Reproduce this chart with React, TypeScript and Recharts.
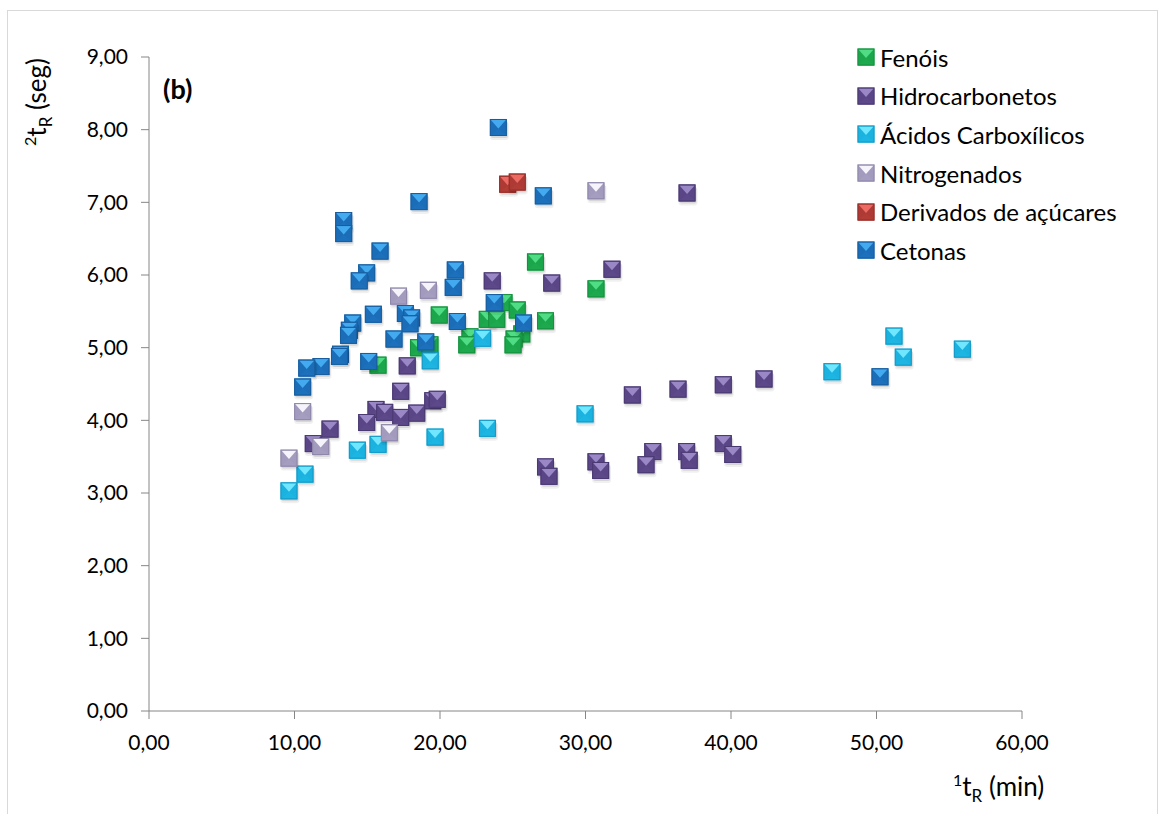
import { ScatterChart, Scatter, XAxis, YAxis } from 'recharts'

type Pt = { x: number; y: number }

const xTicks = [0, 10, 20, 30, 40, 50, 60]
const yTicks = [0, 1, 2, 3, 4, 5, 6, 7, 8, 9]

const fenois: Pt[] = [
  { x: 26.56, y: 6.18 }, { x: 30.72, y: 5.81 }, { x: 24.4, y: 5.62 }, { x: 25.31, y: 5.52 },
  { x: 19.95, y: 5.45 }, { x: 23.25, y: 5.39 }, { x: 23.9, y: 5.39 }, { x: 27.25, y: 5.37 },
  { x: 22.06, y: 5.15 }, { x: 21.84, y: 5.04 }, { x: 25.62, y: 5.19 }, { x: 25.09, y: 5.12 },
  { x: 25.02, y: 5.04 }, { x: 18.52, y: 5.0 }, { x: 19.31, y: 5.04 }, { x: 15.74, y: 4.76 },
]

const hidrocarbonetos: Pt[] = [
  { x: 36.98, y: 7.13 }, { x: 31.82, y: 6.08 }, { x: 27.68, y: 5.89 }, { x: 23.59, y: 5.92 },
  { x: 17.75, y: 4.75 }, { x: 17.3, y: 4.4 }, { x: 15.6, y: 4.15 }, { x: 16.2, y: 4.11 },
  { x: 17.3, y: 4.04 }, { x: 18.4, y: 4.1 }, { x: 19.5, y: 4.27 }, { x: 19.81, y: 4.29 },
  { x: 14.96, y: 3.97 }, { x: 12.44, y: 3.88 }, { x: 11.29, y: 3.68 }, { x: 42.27, y: 4.57 },
  { x: 39.47, y: 4.49 }, { x: 36.36, y: 4.43 }, { x: 33.22, y: 4.35 }, { x: 39.47, y: 3.68 },
  { x: 40.12, y: 3.53 }, { x: 36.95, y: 3.57 }, { x: 37.13, y: 3.45 }, { x: 34.62, y: 3.57 },
  { x: 34.16, y: 3.39 }, { x: 30.72, y: 3.43 }, { x: 31.04, y: 3.31 }, { x: 27.25, y: 3.36 },
  { x: 27.49, y: 3.23 },
]

const acidos: Pt[] = [
  { x: 9.62, y: 3.03 }, { x: 10.72, y: 3.26 }, { x: 14.32, y: 3.59 }, { x: 15.74, y: 3.67 },
  { x: 19.66, y: 3.77 }, { x: 23.26, y: 3.89 }, { x: 19.33, y: 4.82 }, { x: 22.93, y: 5.13 },
  { x: 29.97, y: 4.09 }, { x: 46.94, y: 4.67 }, { x: 51.2, y: 5.16 }, { x: 51.84, y: 4.87 },
  { x: 55.9, y: 4.98 },
]

const nitrogenados: Pt[] = [
  { x: 30.72, y: 7.16 }, { x: 17.15, y: 5.71 }, { x: 19.2, y: 5.79 }, { x: 10.56, y: 4.12 },
  { x: 16.52, y: 3.83 }, { x: 11.8, y: 3.64 }, { x: 9.62, y: 3.48 },
]

const acucares: Pt[] = [
  { x: 24.65, y: 7.25 }, { x: 25.31, y: 7.28 },
]

const cetonas: Pt[] = [
  { x: 24.01, y: 8.03 }, { x: 27.1, y: 7.09 }, { x: 18.56, y: 7.01 }, { x: 13.38, y: 6.75 },
  { x: 13.38, y: 6.57 }, { x: 15.88, y: 6.33 }, { x: 14.96, y: 6.03 }, { x: 14.45, y: 5.92 },
  { x: 21.05, y: 6.07 }, { x: 20.91, y: 5.83 }, { x: 23.73, y: 5.62 }, { x: 15.42, y: 5.46 },
  { x: 17.62, y: 5.47 }, { x: 18.05, y: 5.41 }, { x: 17.94, y: 5.33 }, { x: 21.19, y: 5.36 },
  { x: 25.74, y: 5.34 }, { x: 14.0, y: 5.34 }, { x: 13.77, y: 5.24 }, { x: 13.71, y: 5.17 },
  { x: 16.84, y: 5.12 }, { x: 19.02, y: 5.08 }, { x: 13.16, y: 4.91 }, { x: 13.09, y: 4.88 },
  { x: 15.1, y: 4.81 }, { x: 11.82, y: 4.74 }, { x: 10.84, y: 4.72 }, { x: 10.56, y: 4.46 },
  { x: 50.24, y: 4.6 },
]

type Pal = { top: string; side: string; bottom: string; edge: string }

const series: { name: string; data: Pt[]; pal: Pal }[] = [
  { name: 'Fenóis', data: fenois, pal: { top: '#4fdc84', side: '#1ca64c', bottom: '#1ea94f', edge: '#17913f' } },
  { name: 'Hidrocarbonetos', data: hidrocarbonetos, pal: { top: '#9a88c6', side: '#5a4686', bottom: '#5d4989', edge: '#4a3a72' } },
  { name: 'Ácidos Carboxílicos', data: acidos, pal: { top: '#70e6ff', side: '#1bb2e0', bottom: '#1db6e3', edge: '#1799c4' } },
  { name: 'Nitrogenados', data: nitrogenados, pal: { top: '#f6f4fb', side: '#a39bbd', bottom: '#a69ec0', edge: '#8f87aa' } },
  { name: 'Derivados de açúcares', data: acucares, pal: { top: '#ec6a62', side: '#ae3a35', bottom: '#b23d37', edge: '#932f2a' } },
  { name: 'Cetonas', data: cetonas, pal: { top: '#44aaf0', side: '#1b6db8', bottom: '#1d71bc', edge: '#185e9e' } },
]

const fmt = (v: number) => v.toFixed(2).replace('.', ',')

function Marker({ cx, cy, pal, shadow }: { cx: number; cy: number; pal: Pal; shadow?: boolean }) {
  const s = 8.5
  const l = cx - s, r = cx + s, t = cy - s, b = cy + s
  return (
    <g>
      {shadow && (
        <>
          <rect x={l} y={t + 3} width={2 * s + 2} height={2 * s + 1} rx={3} fill="#000" opacity={0.06} />
          <rect x={l + 1} y={t + 2} width={2 * s} height={2 * s} rx={2} fill="#000" opacity={0.1} />
        </>
      )}
      <rect x={l} y={t} width={2 * s} height={2 * s} fill={pal.side} />
      <polygon points={`${l},${b} ${r},${b} ${cx},${cy + 1}`} fill={pal.bottom} />
      <polygon points={`${l + 1},${t + 1} ${r - 1},${t + 1} ${cx},${cy + 1}`} fill={pal.top} />
      <rect x={l + 0.5} y={t + 0.5} width={2 * s - 1} height={2 * s - 1} fill="none" stroke={pal.edge} strokeWidth={1} />
    </g>
  )
}

const makeShape = (pal: Pal) => (props: any) => {
  const { cx, cy } = props
  if (cx == null || cy == null) return <g />
  return <Marker cx={cx} cy={cy} pal={pal} shadow />
}

export default function App() {
  return (
    <div style={{ position: 'absolute', left: 0, top: 0, width: 1166, height: 814, overflow: 'hidden', background: '#fff', fontFamily: 'Lato, sans-serif' }}>
      <div style={{ position: 'absolute', left: 7, top: 10, width: 1149, height: 900, border: '1px solid #d9d9d9' }} />
      <ScatterChart width={1166} height={814} margin={{ top: 57, right: 144, bottom: 63, left: 89 }}>
        <XAxis
          type="number"
          dataKey="x"
          domain={[0, 60]}
          ticks={xTicks}
          tickFormatter={fmt}
          height={40}
          stroke="#868686"
          tickSize={8}
          tickMargin={16}
          tick={{ fill: '#000', fontSize: 21, fontFamily: 'Lato, sans-serif' }}
        />
        <YAxis
          type="number"
          dataKey="y"
          domain={[0, 9]}
          ticks={yTicks}
          tickFormatter={fmt}
          width={60}
          stroke="#868686"
          tickSize={8}
          tickMargin={13}
          tick={{ fill: '#000', fontSize: 21, fontFamily: 'Lato, sans-serif' }}
        />
        {series.map((s) => (
          <Scatter key={s.name} name={s.name} data={s.data} shape={makeShape(s.pal)} isAnimationActive={false} />
        ))}
      </ScatterChart>
      <div style={{ position: 'absolute', left: 856, top: 38, fontSize: 24, color: '#000' }}>
        {series.map((s) => (
          <div key={s.name} style={{ display: 'flex', alignItems: 'center', height: 38.6 }}>
            <svg width={20} height={20} style={{ marginRight: 4 }}>
              <Marker cx={10} cy={10} pal={s.pal} />
            </svg>
            <span>{s.name}</span>
          </div>
        ))}
      </div>
      <div style={{ position: 'absolute', left: 163, top: 72, fontSize: 27, fontWeight: 'bold' }}>(b)</div>
      <div style={{ position: 'absolute', left: 953, top: 770, fontSize: 26, whiteSpace: 'nowrap' }}>
        <sup style={{ fontSize: 16 }}>1</sup>t<sub style={{ fontSize: 17 }}>R</sub> (min)
      </div>
      <div
        style={{
          position: 'absolute', left: 38, top: 102, fontSize: 26, whiteSpace: 'nowrap',
          transform: 'translate(-50%, -50%) rotate(-90deg)',
        }}
      >
        <sup style={{ fontSize: 16 }}>2</sup>t<sub style={{ fontSize: 17 }}>R</sub> (seg)
      </div>
    </div>
  )
}
